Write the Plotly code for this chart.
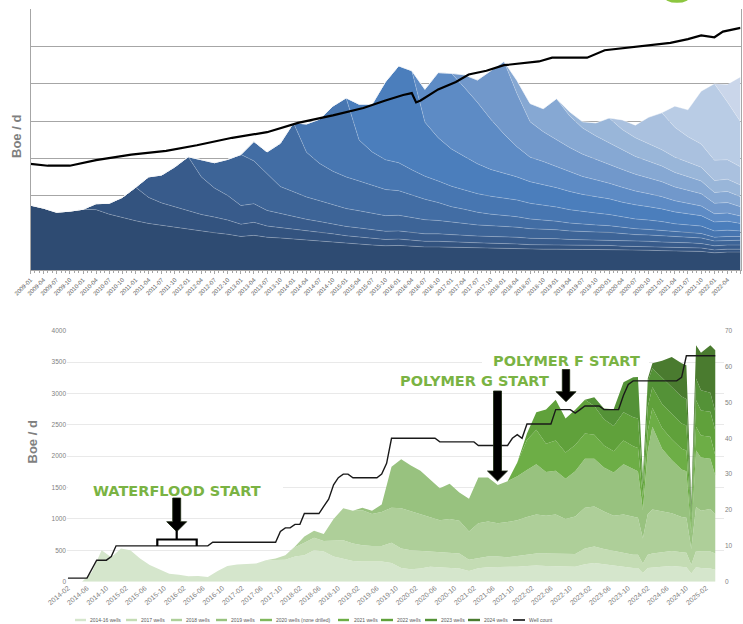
import plotly.graph_objects as go

W, H = 743, 624

# ============ UPPER CHART DATA (quarterly, thousand Boe/d by well vintage) ============
top_dates = [
    "2009-01", "2009-04", "2009-07", "2009-10", "2010-01", "2010-04", "2010-07", "2010-10",
    "2011-01", "2011-04", "2011-07", "2011-10", "2012-01", "2012-04", "2012-07", "2012-10",
    "2013-01", "2013-04", "2013-07", "2013-10", "2014-01", "2014-04", "2014-07", "2014-10",
    "2015-01", "2015-04", "2015-07", "2015-10", "2016-01", "2016-04", "2016-07", "2016-10",
    "2017-01", "2017-04", "2017-07", "2017-10", "2018-01", "2018-04", "2018-07", "2018-10",
    "2019-01", "2019-04", "2019-07", "2019-10", "2020-01", "2020-04", "2020-07", "2020-10",
    "2021-01", "2021-04", "2021-07", "2021-10", "2022-01", "2022-04", "2022-07",
]
top_base = [1.74, 1.66, 1.55, 1.58, 1.63, 1.62, 1.50, 1.40, 1.32, 1.25, 1.20, 1.14, 1.08, 1.04,
            1.00, 0.96, 0.90, 0.93, 0.88, 0.86, 0.83, 0.80, 0.78, 0.75, 0.72, 0.70, 0.67, 0.65,
            0.66, 0.64, 0.62, 0.62, 0.61, 0.60, 0.60, 0.59, 0.59, 0.57, 0.56, 0.56, 0.56, 0.55,
            0.55, 0.55, 0.55, 0.54, 0.53, 0.53, 0.52, 0.51, 0.51, 0.50, 0.46, 0.48, 0.48]
top_2010 = [0, 0.16, 0.29, 0.55, 0.90, 0.70, 0.60, 0.55, 0.50, 0.45, 0.42, 0.38, 0.33, 0.35, 0.30,
            0.28, 0.26, 0.25, 0.24, 0.22, 0.20, 0.19, 0.18, 0.17, 0.17, 0.16, 0.15, 0.15, 0.14,
            0.14, 0.13, 0.13, 0.13, 0.13, 0.12, 0.12, 0.12, 0.11, 0.11, 0.11, 0.11, 0.10, 0.10,
            0.10, 0.10, 0.09, 0.09, 0.09, 0.08, 0.08, 0.08]
top_2011 = [0, 0.55, 0.75, 1.08, 1.46, 1.01, 0.78, 0.66, 0.50, 0.50, 0.42, 0.38, 0.34, 0.31, 0.28,
            0.26, 0.25, 0.24, 0.23, 0.22, 0.22, 0.21, 0.20, 0.20, 0.19, 0.19, 0.18, 0.18, 0.18,
            0.18, 0.17, 0.17, 0.16, 0.16, 0.15, 0.15, 0.15, 0.14, 0.14, 0.14, 0.13, 0.13, 0.13,
            0.12, 0.11, 0.11, 0.11]
top_2012 = [0, 0.45, 0.68, 0.97, 1.37, 1.15, 1.00, 0.72, 0.67, 0.60, 0.56, 0.52, 0.48, 0.46, 0.44,
            0.42, 0.42, 0.40, 0.38, 0.36, 0.34, 0.32, 0.30, 0.29, 0.28, 0.27, 0.26, 0.25, 0.24,
            0.23, 0.22, 0.21, 0.20, 0.19, 0.18, 0.17, 0.17, 0.16, 0.15, 0.15, 0.13, 0.13, 0.13]
top_2013 = [0, 0.52, 0.57, 1.16, 1.85, 1.20, 1.00, 0.90, 0.85, 0.80, 0.75, 0.70, 0.66, 0.60, 0.55,
            0.48, 0.42, 0.38, 0.34, 0.31, 0.29, 0.28, 0.26, 0.24, 0.23, 0.21, 0.20, 0.19, 0.18,
            0.17, 0.16, 0.15, 0.14, 0.13, 0.12, 0.12, 0.10, 0.10, 0.10]
top_2014 = [0, 0.76, 1.19, 1.75, 2.12, 1.10, 0.90, 0.80, 0.75, 0.68, 0.62, 0.58, 0.55, 0.52, 0.50,
            0.48, 0.46, 0.45, 0.42, 0.40, 0.38, 0.36, 0.34, 0.32, 0.30, 0.28, 0.26, 0.25, 0.24,
            0.22, 0.21, 0.20, 0.17, 0.17, 0.15]
top_2015 = [0, 0.96, 1.28, 2.09, 2.60, 2.66, 1.45, 1.16, 1.00, 0.90, 0.80, 0.72, 0.67, 0.62, 0.58,
            0.55, 0.52, 0.49, 0.46, 0.44, 0.42, 0.40, 0.38, 0.36, 0.34, 0.32, 0.30, 0.28, 0.24,
            0.24, 0.20]
top_2016 = [0, 0.88, 1.75, 2.03, 1.85, 1.65, 1.35, 1.05, 0.81, 0.66, 0.62, 0.56, 0.52, 0.48, 0.45,
            0.42, 0.40, 0.37, 0.35, 0.33, 0.30, 0.28, 0.26, 0.22, 0.22, 0.20]
top_2017 = [0, 0.34, 0.60, 1.30, 1.95, 1.43, 0.95, 0.80, 0.72, 0.66, 0.60, 0.56, 0.52, 0.48, 0.45,
            0.42, 0.40, 0.37, 0.35, 0.33, 0.28, 0.28, 0.25]
top_2018 = [0, 0.35, 0.49, 0.62, 1.11, 0.85, 0.70, 0.62, 0.56, 0.52, 0.48, 0.45, 0.42, 0.39, 0.37,
            0.34, 0.29, 0.30, 0.27]
top_2019 = [0, 0.11, 0.17, 0.35, 0.67, 0.55, 0.50, 0.47, 0.44, 0.41, 0.39, 0.37, 0.32, 0.33, 0.31]
top_2020 = [0, 0.26, 0.34, 0.71, 0.99, 0.80, 0.68, 0.62, 0.55, 0.52, 0.49]
top_2021 = [0, 0.57, 0.72, 1.42, 2.05, 1.55, 1.21]
top_2022 = [0, 0.47, 1.20]

top_names = ["Base", "2010", "2011", "2012", "2013", "2014", "2015", "2016", "2017",
             "2018", "2019", "2020", "2021", "2022"]
top_layers = [top_base, top_2010, top_2011, top_2012, top_2013, top_2014, top_2015,
              top_2016, top_2017, top_2018, top_2019, top_2020, top_2021, top_2022]

top_well_dates = ["2009-01", "2009-05", "2009-10", "2010-04", "2010-12", "2011-08", "2012-03",
                  "2012-11", "2013-07", "2014-02", "2014-10", "2015-05", "2015-10", "2016-02",
                  "2016-04", "2016-05", "2016-06", "2016-10", "2017-02", "2017-05", "2017-09",
                  "2018-01", "2018-09", "2018-12", "2019-04", "2019-08", "2019-12", "2020-04",
                  "2020-08", "2020-11", "2021-03", "2021-07", "2021-10", "2022-01", "2022-03",
                  "2022-07"]
top_well_count = [57, 56, 56, 59, 62, 64, 67, 71, 74, 79, 83, 87, 91, 94, 95, 90, 91, 97, 101,
                  105, 107, 110, 112, 114, 114, 114, 118, 119, 120, 121, 122, 124, 126, 125,
                  128, 130]

# ============ LOWER CHART DATA (Boe/d by well vintage) ============
bot_dates = [
    "2014-03", "2014-05", "2014-07", "2014-09", "2014-11",
    "2015-01", "2015-03", "2015-05", "2015-07", "2015-09", "2015-11",
    "2016-01", "2016-03", "2016-05", "2016-07", "2016-09", "2016-11",
    "2017-01", "2017-03", "2017-05", "2017-07", "2017-09", "2017-11",
    "2018-01", "2018-03", "2018-05", "2018-07", "2018-09", "2018-11",
    "2019-01", "2019-03", "2019-05", "2019-07", "2019-09", "2019-11",
    "2020-01", "2020-03", "2020-05", "2020-07", "2020-09", "2020-11",
    "2021-01", "2021-03", "2021-05", "2021-07", "2021-09", "2021-11",
    "2022-01", "2022-03", "2022-05", "2022-07", "2022-09", "2022-11",
    "2023-01", "2023-03", "2023-05", "2023-07", "2023-09", "2023-11",
    "2023-12", "2024-01", "2024-02", "2024-03", "2024-05", "2024-07", "2024-09",
    "2024-10", "2024-11", "2024-12", "2025-01", "2025-03", "2025-04",
]
bot_2014_16 = [0, 0, 150, 500, 390, 530, 500, 370, 265, 190, 125, 110, 85, 90, 75, 170, 250, 275,
               285, 290, 340, 340, 350, 400, 420, 500, 480, 400, 360, 330, 320, 320, 320, 300,
               220, 200, 210, 240, 230, 225, 210, 170, 213, 230, 230, 230, 240, 250, 260, 250,
               250, 245, 240, 280, 300, 280, 260, 230, 220, 220, 140, 220, 230, 240, 250, 240,
               230, 130, 230, 220, 210, 190]
bot_2017 = [0, 30, 70, 150, 200, 200, 170, 250, 300, 280, 260, 250, 250, 320, 310, 300, 280, 240,
            230, 235, 240, 180, 160, 170, 170, 160, 170, 180, 190, 200, 200, 195, 200, 250, 260,
            240, 230, 220, 210, 210, 150, 210, 220, 230, 240, 230, 230, 140, 260, 260, 270, 260]
bot_2018 = [0, 10, 100, 110, 110, 350, 510, 520, 560, 510, 540, 560, 640, 620, 580, 546, 520, 540,
            520, 450, 557, 560, 530, 560, 570, 600, 620, 600, 620, 560, 600, 650, 640, 600, 560,
            620, 600, 590, 400, 650, 700, 650, 600, 560, 560, 250, 700, 650, 680, 620]
bot_2019 = [0, 40, 50, 120, 650, 780, 730, 700, 604, 510, 560, 450, 520, 730, 700, 610, 650, 700,
            750, 800, 700, 700, 640, 720, 780, 760, 700, 690, 800, 760, 740, 450, 1000, 1320,
            1000, 850, 760, 740, 250, 900, 850, 800, 620]
bot_2021 = [0, 220, 480, 550, 450, 480, 420, 420, 400, 380, 350, 340, 380, 370, 370, 200, 330,
            300, 330, 330, 330, 330, 130, 380, 350, 350, 320]
bot_2022 = [0, 100, 280, 545, 650, 540, 560, 540, 460, 420, 400, 450, 460, 470, 200, 380, 330,
            380, 400, 400, 400, 130, 420, 400, 400, 400]
bot_2023 = [0, 140, 170, 270, 480, 640, 664, 132, 400, 300, 420, 430, 430, 420, 120, 350, 320,
            300, 300]
bot_2024 = [0, 48, 80, 270, 480, 530, 540, 124, 528, 600, 760, 980]

bot_names = ["2014-16 wells", "2017 wells", "2018 wells", "2019 wells",
             "2021 wells", "2022 wells", "2023 wells", "2024 wells"]
bot_layers = [bot_2014_16, bot_2017, bot_2018, bot_2019, bot_2021, bot_2022, bot_2023, bot_2024]

bot_well_dates = ["2014-02", "2014-06", "2014-08", "2014-10", "2014-11", "2014-12", "2016-07",
                  "2016-08", "2017-09", "2017-10", "2017-11", "2017-12", "2018-01", "2018-02",
                  "2018-03", "2018-06", "2018-07", "2018-08", "2018-09", "2018-10", "2018-11",
                  "2018-12", "2019-01", "2019-06", "2019-07", "2019-08", "2019-09", "2020-06",
                  "2020-07", "2021-02", "2021-03", "2021-09", "2021-10", "2021-11", "2021-12",
                  "2022-01", "2022-06", "2022-07", "2022-10", "2022-11", "2022-12", "2023-01",
                  "2023-04", "2023-05", "2023-08", "2023-09", "2023-10", "2023-11", "2024-08",
                  "2024-09", "2024-10", "2025-04"]
bot_well_count = [1, 1, 6, 6, 7, 10, 10, 11, 11, 14, 15, 15, 16, 16, 19, 19, 21, 23, 27, 29, 30,
                  30, 29, 29, 30, 33, 40, 40, 39, 39, 38, 38, 40, 41, 40, 44, 44, 48, 48, 47, 48,
                  49, 49, 48, 48, 52, 55, 56, 56, 57, 63, 63]

legend_labels = ["2014-16 wells", "2017 wells", "2018 wells", "2019 wells",
                 "2020 wells (none drilled)", "2021 wells", "2022 wells", "2023 wells",
                 "2024 wells", "Well count"]

# ============ STYLES ============
top_colors = ["#2E4B72", "#33537F", "#385B8B", "#3D6497", "#426DA4", "#4776B1", "#4B7EBC",
              "#5D8BC5", "#7198CB", "#86A8D3", "#99B6D9", "#AAC1DF", "#B9CCE5", "#CAD6EA"]
bot_colors = ["#D5E6CC", "#C4DCB4", "#AECF99", "#98C27F", "#6DAE46", "#60A13B", "#549237",
              "#4A7B2F"]
legend_colors = ["#D5E6CC", "#C4DCB4", "#AECF99", "#98C27F", "#80B75C", "#6DAE46", "#60A13B",
                 "#549237", "#4A7B2F", "#000000"]
legend_pos = [(75, 86, 88), (126, 137, 139), (171, 182, 184), (216, 227, 229), (260, 272, 274),
              (338, 349, 352), (381, 393, 395), (425, 437, 439), (468, 480, 482), (513, 525, 527)]


def px(x):
    return x / W


def py(y):
    return 1 - y / H


fig = go.Figure()

for name, vals, col in zip(top_names, top_layers, top_colors):
    fig.add_trace(go.Scatter(
        x=top_dates[len(top_dates) - len(vals):], y=vals, name=name, stackgroup="top",
        mode="lines", line=dict(width=0.6, color="rgba(255,255,255,0.35)"),
        fillcolor=col, xaxis="x", yaxis="y", showlegend=False, hoverinfo="skip"))

fig.add_trace(go.Scatter(x=top_well_dates, y=top_well_count, mode="lines", name="Well count",
                         line=dict(color="black", width=2.2), xaxis="x", yaxis="y2",
                         showlegend=False))

for name, vals, col in zip(bot_names, bot_layers, bot_colors):
    fig.add_trace(go.Scatter(
        x=bot_dates[len(bot_dates) - len(vals):], y=vals, name=name, stackgroup="bot",
        mode="lines", line=dict(width=0), fillcolor=col, xaxis="x2", yaxis="y3",
        showlegend=False, hoverinfo="skip"))

fig.add_trace(go.Scatter(x=bot_well_dates, y=bot_well_count, mode="lines", name="Well count",
                         line=dict(color="#1A1A1A", width=1.4), xaxis="x2", yaxis="y4",
                         showlegend=False))

shapes = []
annotations = []

# text boxes (white backgrounds behind the callouts)
for x0, x1, y0, y1 in [(68, 283, 481, 500), (392, 555, 372, 390), (482, 649, 350, 371)]:
    shapes.append(dict(type="rect", xref="paper", yref="paper", x0=px(x0), x1=px(x1),
                       y0=py(y1), y1=py(y0), fillcolor="white", line=dict(width=0),
                       layer="above"))


def arrow(cx, hw, top, hb, hh, tip):
    pts = [(cx - hw, top), (cx + hw, top), (cx + hw, hb), (cx + hh, hb), (cx, tip),
           (cx - hh, hb), (cx - hw, hb)]
    path = "M" + " L".join(f"{px(a):.5f},{py(b):.5f}" for a, b in pts) + " Z"
    return dict(type="path", xref="paper", yref="paper", path=path, fillcolor="#000000",
                line=dict(color="#1b2a10", width=0.8), layer="above")


shapes.append(arrow(176.7, 4, 498, 521.7, 10, 531.7))
shapes.append(arrow(497.5, 4, 391, 471, 10, 481))
shapes.append(arrow(566, 3.7, 369.5, 391.7, 10, 401.7))

bracket = (f"M{px(157.3):.5f},{py(546):.5f} L{px(157.3):.5f},{py(539.5):.5f} "
           f"L{px(196.7):.5f},{py(539.5):.5f} L{px(196.7):.5f},{py(546):.5f} "
           f"M{px(176.7):.5f},{py(539.5):.5f} L{px(176.7):.5f},{py(531):.5f}")
shapes.append(dict(type="path", xref="paper", yref="paper", path=bracket,
                   fillcolor="rgba(0,0,0,0)", line=dict(color="black", width=2.2),
                   layer="above"))

# small green badge cut at the top edge
shapes.append(dict(type="circle", xref="paper", yref="paper", x0=px(663), x1=px(691),
                   y0=py(2.8), y1=py(-12), fillcolor="#8CC63F", line=dict(width=0)))

# legend (drawn by hand, compact like the original)
for lab, col, (x0, x1, xt) in zip(legend_labels, legend_colors, legend_pos):
    shapes.append(dict(type="line", xref="paper", yref="paper", x0=px(x0), x1=px(x1),
                       y0=py(620), y1=py(620),
                       line=dict(color=col, width=1.5 if lab == "Well count" else 2.4)))
    annotations.append(dict(text=lab, xref="paper", yref="paper", x=px(xt), y=py(620),
                            xanchor="left", yanchor="middle", showarrow=False,
                            font=dict(size=5, color="#595959", family="Liberation Sans")))

callout_font = dict(family="DejaVu Sans", size=14.5, color="#7AB343")
annotations += [
    dict(text="<b>WATERFLOOD START</b>", xref="paper", yref="paper", x=px(176.5), y=py(491),
         xanchor="center", yanchor="middle", showarrow=False, font=callout_font),
    dict(text="<b>POLYMER G START</b>", xref="paper", yref="paper", x=px(474), y=py(381),
         xanchor="center", yanchor="middle", showarrow=False, font=callout_font),
    dict(text="<b>POLYMER F START</b>", xref="paper", yref="paper", x=px(566), y=py(361),
         xanchor="center", yanchor="middle", showarrow=False, font=callout_font),
    dict(text="<b>Boe / d</b>", xref="paper", yref="paper", x=px(16), y=py(137),
         xanchor="center", yanchor="middle", textangle=-90, showarrow=False,
         font=dict(family="Liberation Sans", size=13, color="#7F7F7F")),
    dict(text="<b>Boe / d</b>", xref="paper", yref="paper", x=px(31.5), y=py(442),
         xanchor="center", yanchor="middle", textangle=-90, showarrow=False,
         font=dict(family="Liberation Sans", size=13, color="#7F7F7F")),
]

fig.update_layout(
    template="none",
    width=W, height=H,
    margin=dict(l=0, r=0, t=0, b=0),
    paper_bgcolor="white", plot_bgcolor="rgba(0,0,0,0)",
    font=dict(family="Liberation Sans", color="#595959"),
    showlegend=False,
    shapes=shapes,
    annotations=annotations,
    xaxis=dict(domain=[px(30.5), px(740.5)], anchor="y", type="date",
               range=["2009-01-01", "2022-07-01"], dtick="M3", tick0="2009-01-01",
               tickformat="%Y-%m", tickangle=-45, tickfont=dict(size=6, color="#595959"),
               ticks="outside", ticklen=3, tickcolor="#A6A6A6",
               minor=dict(dtick="M1", ticks="outside", ticklen=2, tickcolor="#A6A6A6"),
               showline=True, linecolor="#A6A6A6", linewidth=1.2, showgrid=False,
               zeroline=False, automargin=False),
    yaxis=dict(domain=[py(270), py(9.3)], anchor="x", range=[0, 7], dtick=1,
               showticklabels=False, ticks="", showgrid=True, gridcolor="#A6A6A6",
               gridwidth=1.2, showline=True, linecolor="#A6A6A6", linewidth=1.2, mirror=True,
               zeroline=False, automargin=False),
    yaxis2=dict(overlaying="y", anchor="x", range=[0, 140], visible=False),
    xaxis2=dict(domain=[px(67), px(724)], anchor="y3", type="date",
                range=["2014-01-26", "2025-05-26"], dtick="M4", tick0="2014-02-01",
                tickformat="%Y-%m", tickangle=-40, tickfont=dict(size=7, color="#7F7F7F"),
                ticks="", showline=False, showgrid=False, zeroline=False, automargin=False),
    yaxis3=dict(domain=[py(581.7), py(330.7)], anchor="x2", range=[0, 4000], dtick=500,
                tickfont=dict(size=6.5, color="#7F7F7F"), ticks="", showgrid=True,
                gridcolor="#E9E9E9", gridwidth=1.2, showline=False, zeroline=False,
                automargin=False),
    yaxis4=dict(overlaying="y3", anchor="x2", side="right", range=[0, 70], dtick=10,
                tickfont=dict(size=6.5, color="#7F7F7F"), ticks="", showgrid=False,
                showline=False, zeroline=False, automargin=False),
)

fig.write_html("out.html")
